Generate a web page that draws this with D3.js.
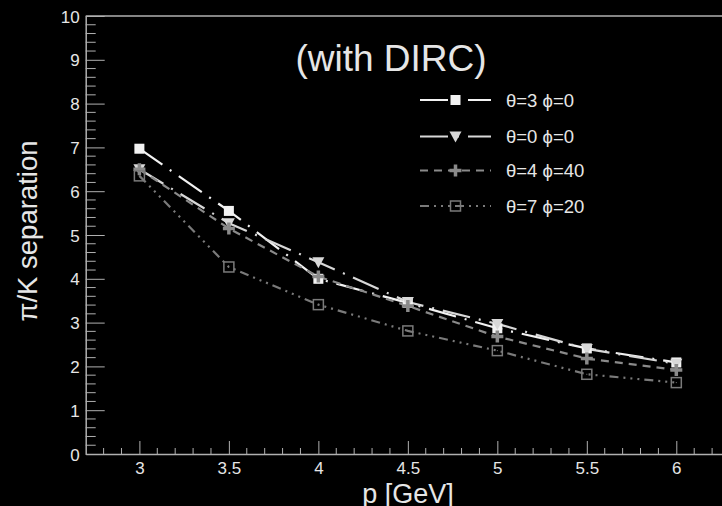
<!DOCTYPE html>
<html>
<head>
<meta charset="utf-8">
<script src="https://cdn.jsdelivr.net/npm/d3@7"></script>
<style>
  html, body { margin: 0; padding: 0; background: #000; }
  svg { display: block; }
  text { font-family: "Liberation Sans", Arial, sans-serif; }
</style>
</head>
<body>
<svg id="chart" width="722" height="506"></svg>
<script>
// --- data ---
const momenta = [3, 3.5, 4, 4.5, 5, 5.5, 6];
const sepTheta3Phi0 = [6.97, 5.55, 4.00, 3.45, 2.87, 2.41, 2.09];
const sepTheta0Phi0 = [6.50, 5.27, 4.38, 3.47, 2.97, 2.40, 2.06];
const sepTheta4Phi40 = [6.50, 5.15, 4.05, 3.38, 2.68, 2.18, 1.92];
const sepTheta7Phi20 = [6.35, 4.27, 3.41, 2.81, 2.36, 1.82, 1.63];
const seriesLabels = ["θ=3 ϕ=0", "θ=0 ϕ=0", "θ=4 ϕ=40", "θ=7 ϕ=20"];
const xMajorTicks = [3, 3.5, 4, 4.5, 5, 5.5, 6];
const yMajorTicks = [0, 1, 2, 3, 4, 5, 6, 7, 8, 9, 10];

const series = [
    { label: seriesLabels[0], values: sepTheta3Phi0, color: "#f2f2f2", dash: "28,9,2,9", marker: "filledSquare" },
    { label: seriesLabels[1], values: sepTheta0Phi0, color: "#d8d8d8", dash: "28,9,2,9", marker: "triangleDown" },
    { label: seriesLabels[2], values: sepTheta4Phi40, color: "#8a8a8a", dash: "8,6", marker: "plus" },
    { label: seriesLabels[3], values: sepTheta7Phi20, color: "#7a7a7a", dash: "9,5,2,5,2,5,2,5", marker: "openSquare" }
];

const svg = d3.select("#chart");
const x = d3.scaleLinear().domain([2.7, 6.3]).range([85.7, 730]);
const y = d3.scaleLinear().domain([0, 10]).range([454, 16]);

const axisColor = "#b0b0b0";
const textColor = "#e6e6e6";

// --- top frame line ---
svg.append("line").attr("x1", x(2.7)).attr("x2", x(6.3)).attr("y1", y(10)).attr("y2", y(10))
    .attr("stroke", axisColor).attr("stroke-width", 1.5);

// --- x axis ---
const xAxis = d3.axisBottom(x).tickValues(xMajorTicks).tickSizeInner(-13).tickSizeOuter(0)
    .tickPadding(8).tickFormat(d3.format("~g"));
const gx = svg.append("g").attr("transform", `translate(0,${y(0)})`).call(xAxis);
const xMinor = d3.range(28, 63).map(d => d / 10).filter(d => !xMajorTicks.includes(d));
gx.selectAll(".minor").data(xMinor).join("line").attr("class", "minor")
    .attr("x1", d => x(d)).attr("x2", d => x(d)).attr("y1", 0).attr("y2", -6)
    .attr("stroke", axisColor);

// --- y axis ---
const yAxis = d3.axisLeft(y).tickValues(yMajorTicks).tickSizeInner(-19).tickSizeOuter(0)
    .tickPadding(6);
const gy = svg.append("g").attr("transform", `translate(${x(2.7)},0)`).call(yAxis);
const yMinor = d3.range(0, 51).map(d => d / 5).filter(d => !yMajorTicks.includes(d));
gy.selectAll(".minor").data(yMinor).join("line").attr("class", "minor")
    .attr("x1", 0).attr("x2", 10).attr("y1", d => y(d)).attr("y2", d => y(d))
    .attr("stroke", axisColor);

[gx, gy].forEach(g => {
    g.select(".domain").attr("stroke", axisColor).attr("stroke-width", 1.5);
    g.selectAll(".tick line").attr("stroke", axisColor);
    g.selectAll(".tick text").attr("fill", textColor)
        .style("font-family", "'Liberation Sans', Arial, sans-serif").style("font-size", "17px");
});
gy.selectAll(".tick text").attr("dy", "0.36em");

// --- axis titles ---
svg.append("text").attr("x", 408).attr("y", 503).attr("text-anchor", "middle")
    .attr("fill", textColor).style("font-size", "27px").text("p [GeV]");
svg.append("text").attr("transform", "translate(37,231) rotate(-90)").attr("text-anchor", "middle")
    .attr("fill", textColor).style("font-size", "27.5px").text("π/K separation");

// --- title ---
svg.append("text").attr("x", 391).attr("y", 71).attr("text-anchor", "middle")
    .attr("fill", textColor).style("font-size", "37px").text("(with DIRC)");

// --- markers ---
function drawMarker(g, type, color) {
    if (type === "filledSquare") {
        g.append("rect").attr("x", -5).attr("y", -5).attr("width", 10).attr("height", 10).attr("fill", color);
    } else if (type === "triangleDown") {
        g.append("path").attr("d", "M-6,-5L6,-5L0,6Z").attr("fill", color);
    } else if (type === "plus") {
        g.append("path").attr("d", "M-6,0H6M0,-6V6").attr("stroke", color).attr("stroke-width", 3.5);
    } else if (type === "openSquare") {
        g.append("rect").attr("x", -5).attr("y", -5).attr("width", 10).attr("height", 10)
            .attr("fill", "none").attr("stroke", color).attr("stroke-width", 1.5);
        g.append("rect").attr("x", -0.5).attr("y", -0.5).attr("width", 1).attr("height", 1).attr("fill", color);
    }
}

const line = d3.line().x(d => x(d[0])).y(d => y(d[1]));

series.forEach(s => {
    const pts = momenta.map((m, i) => [m, s.values[i]]);
    svg.append("path").datum(pts).attr("d", line).attr("fill", "none")
        .attr("stroke", s.color).attr("stroke-width", 2.2).attr("stroke-dasharray", s.dash);
});
series.forEach(s => {
    momenta.forEach((m, i) => {
        const g = svg.append("g").attr("transform", `translate(${x(m)},${y(s.values[i])})`);
        drawMarker(g, s.marker, s.color);
    });
});

// --- legend ---
const legendRows = [100, 136.5, 170.5, 206];
series.forEach((s, i) => {
    const ly = legendRows[i];
    svg.append("line").attr("x1", 420).attr("x2", 491).attr("y1", ly).attr("y2", ly)
        .attr("stroke", s.color).attr("stroke-width", 2.2).attr("stroke-dasharray", s.dash);
    const g = svg.append("g").attr("transform", `translate(455.5,${ly})`);
    drawMarker(g, s.marker, s.color);
    svg.append("text").attr("x", 506).attr("y", ly + 6.5).attr("fill", textColor)
        .style("font-size", "18.5px").text(s.label);
});
</script>
</body>
</html>
